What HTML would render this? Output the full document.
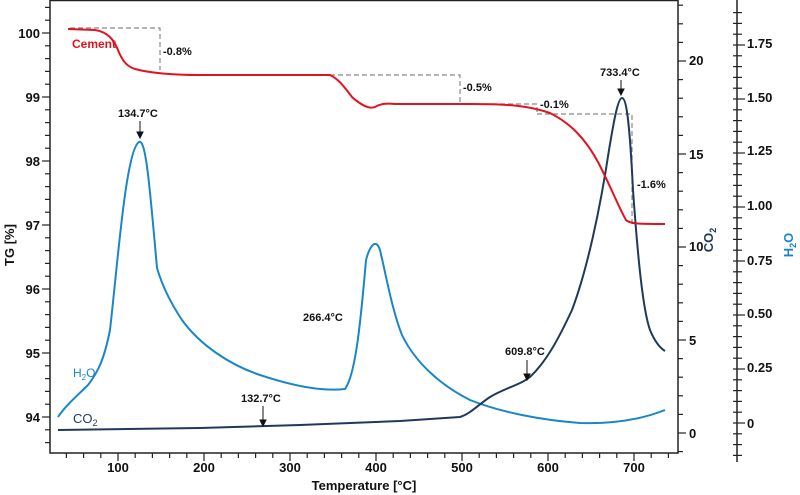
<!DOCTYPE html>
<html><head><meta charset="utf-8"><style>
html,body{margin:0;padding:0;background:#fff;}
svg{display:block;font-family:"Liberation Sans",sans-serif;}
</style></head><body>
<svg id="s" width="800" height="495" viewBox="0 0 800 495" xmlns="http://www.w3.org/2000/svg">
<rect width="800" height="495" fill="#fff"/>
<path d="M50,0 V453 H678 V0 M50,0.5 H678" fill="none" stroke="#222" stroke-width="1.5"/>
<line x1="737" y1="0" x2="737" y2="462" stroke="#222" stroke-width="1.5"/>
<g id="ticks" stroke="#222" stroke-width="1.2"></g>
<g font-size="13" fill="#111" font-weight="bold" text-anchor="end">
<text x="40" y="38">100</text><text x="40" y="102">99</text><text x="40" y="166">98</text>
<text x="40" y="230">97</text><text x="40" y="294">96</text><text x="40" y="358">95</text><text x="40" y="422">94</text>
</g>
<g font-size="13" fill="#111" font-weight="bold" text-anchor="start">
<text x="689" y="65">20</text><text x="689" y="159">15</text><text x="689" y="251">10</text>
<text x="689" y="345">5</text><text x="689" y="438">0</text>
<text x="747" y="48">1.75</text><text x="747" y="102">1.50</text><text x="747" y="155">1.25</text>
<text x="747" y="210">1.00</text><text x="747" y="265">0.75</text><text x="747" y="318">0.50</text>
<text x="747" y="372">0.25</text><text x="747" y="428">0</text>
</g>
<g font-size="13" fill="#111" font-weight="bold" text-anchor="middle">
<text x="118" y="472">100</text><text x="204" y="472">200</text><text x="290" y="472">300</text>
<text x="376" y="472">400</text><text x="462" y="472">500</text><text x="548" y="472">600</text><text x="634" y="472">700</text>
<text x="364" y="490">Temperature [°C]</text>
</g>
<text transform="translate(14,245) rotate(-90)" font-size="13" font-weight="bold" text-anchor="middle" fill="#111">TG [%]</text>
<text transform="translate(713,240) rotate(-90)" font-size="13" font-weight="bold" text-anchor="middle" fill="#1e3a5a">CO<tspan font-size="9" dy="3">2</tspan></text>
<text transform="translate(793,245) rotate(-90)" font-size="13" font-weight="bold" text-anchor="middle" fill="#1a86c8">H<tspan font-size="9" dy="3">2</tspan><tspan dy="-3">O</tspan></text>
<g fill="none" stroke="#888" stroke-width="1.2" stroke-dasharray="5,3">
<path d="M70,28 H160 V70"/><path d="M290,75 H460 V104"/><path d="M460,104 H537 V112"/><path d="M537,114 H632 V224"/>
</g>
<path fill="none" stroke="#1a86c8" stroke-width="2" stroke-linejoin="round" d="M58,417 C66,405 78,395 88,385 C98,372 104,360 110,330 C118,260 126,150 139,142 C146,138 150,190 157,268 C162,285 170,302 182,320 C200,345 230,365 260,375 C290,385 320,392 345,389 C355,375 360,330 366,260 C370,245 376,238 380,250 C386,275 392,310 402,335 C415,362 440,385 470,400 C500,412 540,420 580,423 C610,424 640,420 665,410"/>
<path fill="none" stroke="#1e3a5a" stroke-width="2" stroke-linejoin="round" d="M58,430 L200,428 L300,425 L400,421 L460,417 C470,414 478,405 490,397 C505,388 520,385 530,377 C546,362 558,340 572,310 C587,270 600,210 609,150 C614,120 618,98 622,98 C627,98 630,130 633,190 C638,260 643,310 650,330 C655,342 660,348 665,351"/>
<path fill="none" stroke="#e0141e" stroke-width="2" stroke-linejoin="round" d="M68,29 L95,30 C108,32 114,40 118,50 C122,60 126,66 135,69 C150,73 170,75 200,75 L330,75 C340,80 345,88 352,97 C362,106 370,109 375,107 C380,104 385,103 395,104 L470,104 C510,104 530,106 550,113 C570,123 585,138 598,162 C610,185 620,210 626,220 C630,224 640,224 665,224"/>
<g font-size="11" font-weight="bold" fill="#111">
<text x="163" y="55">-0.8%</text><text x="463" y="91">-0.5%</text><text x="540" y="108">-0.1%</text><text x="637" y="188">-1.6%</text>
<text x="118" y="117">134.7°C</text><text x="303" y="321">266.4°C</text><text x="241" y="402">132.7°C</text>
<text x="505" y="355">609.8°C</text><text x="600" y="76">733.4°C</text>
</g>
<text x="72" y="48" font-size="12" font-weight="bold" fill="#e0141e">Cement</text>
<text x="73" y="377" font-size="12" fill="#1a86c8">H<tspan font-size="8" dy="3">2</tspan><tspan dy="-3">O</tspan></text>
<text x="73" y="423" font-size="13" fill="#1e3a5a">CO<tspan font-size="9" dy="3">2</tspan></text>
<g stroke="#111" stroke-width="1" fill="#111">
<line x1="140" y1="121" x2="140" y2="133"/><path d="M137,132 L143,132 L140,138Z"/>
<line x1="263" y1="406" x2="263" y2="421"/><path d="M260,420 L266,420 L263,426Z"/>
<line x1="527" y1="360" x2="527" y2="375"/><path d="M524,374 L530,374 L527,380Z"/>
<line x1="621" y1="80" x2="621" y2="90"/><path d="M618,89 L624,89 L621,95Z"/>
</g>
</svg>
<script>
var g=document.getElementById('ticks'),d='';
function L(a,b,c,e){d+='<line x1="'+a+'" y1="'+b+'" x2="'+c+'" y2="'+e+'"/>';}
for(var v=93.6;v<=100.45;v+=0.2){var y=33+(100-v)*64;var mj=Math.abs(v-Math.round(v))<0.01;L(mj?42:45,y,50,y);}
for(var t=40;t<=740;t+=20){var x=118+(t-100)*0.86;if(x>678)break;var mj=t%100==0;L(x,453,x,mj?461:458);}
for(var c=-1;c<=23;c++){var y=433-18.6*c;if(y<3)break;var mj=c%5==0;L(678,y,mj?686:683,y);}
for(var h=-0.15;h<=1.95;h+=0.05){var y=423-216*h;if(y<3)break;var mj=Math.abs(h*4-Math.round(h*4))<0.01;L(737,y,mj?745:742,y);L(733,y,737,y);}
g.innerHTML=d;
</script>
</body></html>
